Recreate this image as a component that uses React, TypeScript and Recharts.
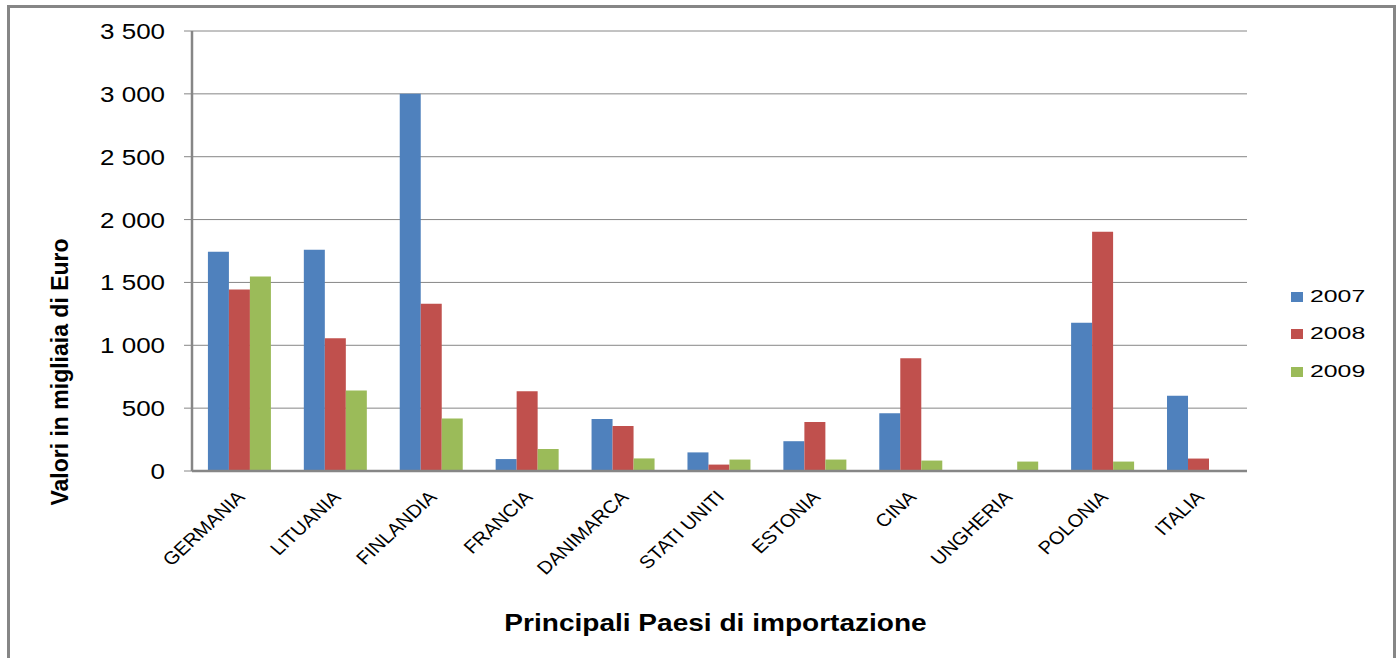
import React from 'react';
import { BarChart, Bar, XAxis, YAxis, CartesianGrid, Legend, Label } from 'recharts';

const categories = ['GERMANIA', 'LITUANIA', 'FINLANDIA', 'FRANCIA', 'DANIMARCA', 'STATI UNITI', 'ESTONIA', 'CINA', 'UNGHERIA', 'POLONIA', 'ITALIA'];
const values2007 = [1745, 1760, 3000, 95, 413, 148, 237, 460, 0, 1180, 598];
const values2008 = [1443, 1055, 1330, 635, 357, 51, 390, 897, 0, 1903, 99];
const values2009 = [1547, 640, 418, 175, 100, 91, 91, 83, 75, 75, 0];
const seriesNames = ['2007', '2008', '2009'];
const seriesColors = ['#4F81BD', '#C0504D', '#9BBB59'];
const yTicks = [0, 500, 1000, 1500, 2000, 2500, 3000, 3500];
const yTitle = 'Valori in migliaia di Euro';
const xTitle = 'Principali Paesi di importazione';

const data = categories.map((c, i) => ({
  name: c,
  s2007: values2007[i],
  s2008: values2008[i],
  s2009: values2009[i],
}));

const FONT = '"Liberation Sans", Arial, sans-serif';

const fmt = (v: number) => {
  const s = String(v);
  if (s.length <= 3) return s;
  return s.slice(0, s.length - 3) + ' ' + s.slice(s.length - 3);
};

const YTick = (props: any) => {
  const { x, y, payload } = props;
  return (
    <text
      transform={`translate(${x},${y}) scale(1.18,1)`}
      textAnchor="end"
      dy="0.36em"
      fontSize={22}
      fontFamily={FONT}
      fill="#000"
    >
      {fmt(payload.value)}
    </text>
  );
};

const XTick = (props: any) => {
  const { x, y, payload } = props;
  return (
    <text
      transform={`translate(${x + 6},${y + 27}) scale(1.12,1) rotate(-46)`}
      textAnchor="end"
      fontSize={18}
      fontFamily={FONT}
      fill="#000"
    >
      {payload.value}
    </text>
  );
};

const LegendContent = (props: any) => {
  const payload = props.payload || [];
  return (
    <div style={{ fontFamily: FONT }}>
      {payload.map((p: any, i: number) => (
        <div key={i} style={{ display: 'flex', alignItems: 'center', height: 37.5 }}>
          <span style={{ display: 'inline-block', width: 12, height: 10, background: p.color, marginRight: 7 }} />
          <span
            style={{
              display: 'inline-block',
              fontSize: 16,
              lineHeight: '16px',
              color: '#000',
              transform: 'scaleX(1.55)',
              transformOrigin: 'left center',
            }}
          >
            {p.value}
          </span>
        </div>
      ))}
    </div>
  );
};

export default function App() {
  return (
    <div style={{ position: 'absolute', left: 0, top: 0, width: 1396, height: 658, background: '#fff', overflow: 'hidden' }}>
      <svg style={{ position: 'absolute', left: 0, top: 0 }} width={1396} height={658}>
        <rect x={8.5} y={6.5} width={1386} height={700} fill="none" stroke="#868686" strokeWidth={3} />
      </svg>
      <div style={{ position: 'absolute', left: 0, top: 0 }}>
        <BarChart
          width={1396}
          height={658}
          data={data}
          margin={{ top: 31, right: 149, left: 20, bottom: 66 }}
          barCategoryGap="16.6%"
          barGap={0}
        >
          <CartesianGrid horizontal={true} vertical={false} stroke="#868686" strokeWidth={1} />
          <XAxis
            dataKey="name"
            interval={0}
            height={121}
            tick={<XTick />}
            tickLine={false}
            tickSize={0}
            tickMargin={0}
            axisLine={{ stroke: '#868686', strokeWidth: 2.5 }}
          >
            <Label
              content={(p: any) => {
                const vb = p.viewBox || { x: 192, y: 471, width: 1055, height: 121 };
                return (
                  <text
                    transform={`translate(${vb.x + vb.width / 2 - 4},${vb.y + vb.height + 39}) scale(1.22,1)`}
                    textAnchor="middle"
                    fontSize={23}
                    fontWeight="bold"
                    fontFamily={FONT}
                    fill="#000"
                  >
                    {xTitle}
                  </text>
                );
              }}
            />
          </XAxis>
          <YAxis
            width={172}
            domain={[0, 3500]}
            ticks={yTicks}
            interval={0}
            tick={<YTick />}
            tickSize={8}
            tickMargin={19}
            tickLine={{ stroke: '#868686', strokeWidth: 1 }}
            axisLine={{ stroke: '#868686', strokeWidth: 2.5 }}
          >
            <Label
              content={(p: any) => {
                const vb = p.viewBox || { x: 20, y: 31, width: 172, height: 440 };
                const cx = vb.x + 40;
                const cy = vb.y + vb.height / 2 + 121;
                return (
                  <text
                    transform={`translate(${cx},${cy}) rotate(-90)`}
                    textAnchor="middle"
                    dy="0.36em"
                    fontSize={23}
                    fontWeight="bold"
                    fontFamily={FONT}
                    fill="#000"
                  >
                    {yTitle}
                  </text>
                );
              }}
            />
          </YAxis>
          <Legend
            layout="vertical"
            align="center"
            verticalAlign="middle"
            wrapperStyle={{ left: 1291, top: 278, width: 100, height: 115 }}
            content={<LegendContent />}
          />
          <Bar dataKey="s2007" name={seriesNames[0]} fill={seriesColors[0]} isAnimationActive={false} />
          <Bar dataKey="s2008" name={seriesNames[1]} fill={seriesColors[1]} isAnimationActive={false} />
          <Bar dataKey="s2009" name={seriesNames[2]} fill={seriesColors[2]} isAnimationActive={false} />
        </BarChart>
      </div>
    </div>
  );
}
